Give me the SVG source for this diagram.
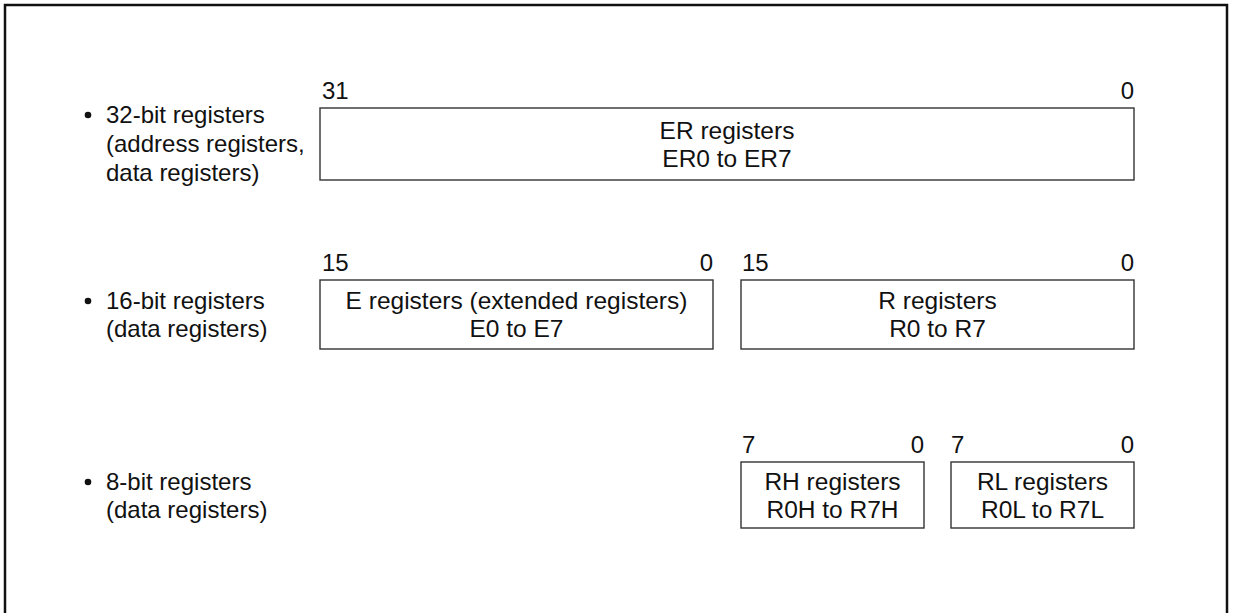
<svg xmlns="http://www.w3.org/2000/svg" width="1233" height="613" viewBox="0 0 1233 613">
<style>
text{font-family:"Liberation Sans",Arial,sans-serif;font-size:24px;fill:#111}
.b{font-size:24.5px}
.c{text-anchor:middle}
.e{text-anchor:end}
.box{fill:#fff;stroke:#333;stroke-width:1.4}
.frame{fill:none;stroke:#111;stroke-width:2.5}
</style>
<rect width="1233" height="613" fill="#fff"/>
<path class="frame" d="M5,613 V5 H1227 V613"/>
<g id="labels">
<g id="label-32">
<circle cx="88" cy="115" r="3.3" fill="#111"/>
<text x="106" y="123">32-bit registers</text>
<text x="106" y="152">(address registers,</text>
<text x="106" y="181">data registers)</text>
</g>
<g id="label-16">
<circle cx="88" cy="301" r="3.3" fill="#111"/>
<text x="106" y="309">16-bit registers</text>
<text x="106" y="337">(data registers)</text>
</g>
<g id="label-8">
<circle cx="88" cy="482" r="3.3" fill="#111"/>
<text x="106" y="490">8-bit registers</text>
<text x="106" y="518">(data registers)</text>
</g>
</g>
<g id="er">
<text x="322" y="99">31</text>
<text class="e" x="1134" y="99">0</text>
<rect class="box" x="320" y="108" width="814" height="72"/>
<text class="b c" x="727" y="139">ER registers</text>
<text class="b c" x="727" y="167">ER0 to ER7</text>
</g>
<g id="e">
<text x="322" y="271">15</text>
<text class="e" x="713" y="271">0</text>
<rect class="box" x="320" y="280" width="393" height="69"/>
<text class="b c" x="516.5" y="309">E registers (extended registers)</text>
<text class="b c" x="516.5" y="337">E0 to E7</text>
</g>
<g id="r">
<text x="742" y="271">15</text>
<text class="e" x="1134" y="271">0</text>
<rect class="box" x="741" y="280" width="393" height="69"/>
<text class="b c" x="937.5" y="309">R registers</text>
<text class="b c" x="937.5" y="337">R0 to R7</text>
</g>
<g id="rh">
<text x="742" y="453">7</text>
<text class="e" x="924" y="453">0</text>
<rect class="box" x="741" y="462" width="183" height="66"/>
<text class="b c" x="832.5" y="490">RH registers</text>
<text class="b c" x="832.5" y="518">R0H to R7H</text>
</g>
<g id="rl">
<text x="951" y="453">7</text>
<text class="e" x="1134" y="453">0</text>
<rect class="box" x="951" y="462" width="183" height="66"/>
<text class="b c" x="1042.5" y="490">RL registers</text>
<text class="b c" x="1042.5" y="518">R0L to R7L</text>
</g>
<g id="connectors"/>
</svg>
